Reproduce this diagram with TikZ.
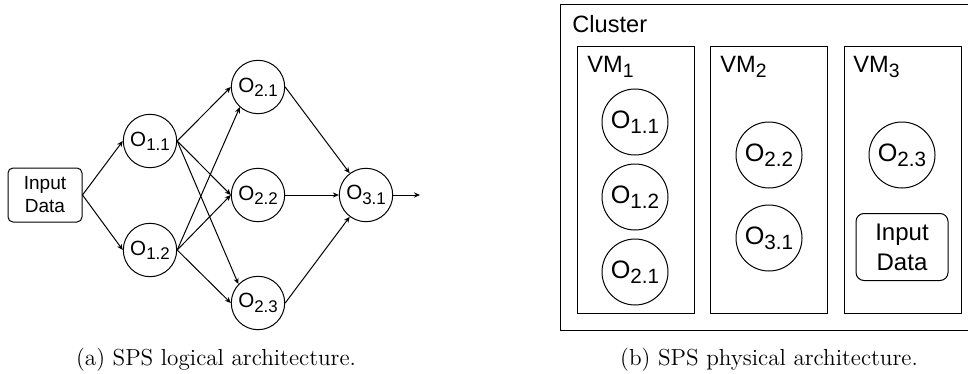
\documentclass[tikz,border=0pt]{standalone}
\usepackage{fontspec}
\newfontfamily\arialf{Liberation Sans}
\usetikzlibrary{arrows.meta}
\newcommand\mysub[1]{\raisebox{-0.21em}{\scalebox{0.82}{#1}}}
\begin{document}
\begin{tikzpicture}[x=0.5pt,y=-0.5pt,
  op/.style={circle,draw,line width=0.5pt,inner sep=0pt,minimum size=26.7pt,font=\arialf\fontsize{10.3}{12}\selectfont},
  opb/.style={op,minimum size=33pt,font=\arialf\fontsize{12.6}{15}\selectfont},
  inbox/.style={draw,rounded corners=2.5pt,line width=0.5pt,minimum width=37pt,minimum height=27pt,align=center,inner sep=0pt,font=\arialf\fontsize{9.5}{11.5}\selectfont},
  inboxb/.style={inbox,rounded corners=4pt,minimum width=46pt,minimum height=33.5pt,font=\arialf\fontsize{12}{15}\selectfont},
  vmbox/.style={draw,line width=0.5pt,minimum width=58.5pt,minimum height=133pt,inner sep=0pt},
  lbl/.style={anchor=base west,inner sep=0pt,font=\arialf\fontsize{11.8}{14}\selectfont},
  captext/.style={font=\fontsize{11.6}{13}\selectfont},
  arr/.style={-{Stealth[length=3pt,width=2.6pt]},line width=0.5pt},
]
\clip (0,0) rectangle (968,374);
% ---- (a) logical ----
\node[inbox] (in) at (45,195) {Input\\Data};
\node[op] (o11) at (150,141) {O\mysub{1.1}};
\node[op] (o12) at (150,250) {O\mysub{1.2}};
\node[op] (o21) at (258,87) {O\mysub{2.1}};
\node[op] (o22) at (258,195) {O\mysub{2.2}};
\node[op] (o23) at (258,303) {O\mysub{2.3}};
\node[op] (o31) at (366,195) {O\mysub{3.1}};
\coordinate (out) at (420,195);
\draw[arr] (in.east) -- (o11.west);
\draw[arr] (in.east) -- (o12.west);
\draw[arr] (o11.east) -- (o21.west);
\draw[arr] (o11.east) -- (o22.west);
\draw[arr] (o11.east) -- (o23.136);
\draw[arr] (o12.east) -- (o21.228);
\draw[arr] (o12.east) -- (o22.west);
\draw[arr] (o12.east) -- (o23.west);
\draw[arr] (o21.east) -- (o31);
\draw[arr] (o22.east) -- (o31.west);
\draw[arr] (o23.east) -- (o31);
\draw[arr] (o31.east) -- (out);
\node[captext] (capa) at (216,360) {(a) SPS logical architecture.};
% ---- (b) physical ----
\node[draw,line width=0.5pt,minimum width=230pt,minimum height=162.5pt,inner sep=0pt] (cluster) at (790,167.5) {};
\node[lbl] (cl) at (572,33) {Cluster};
\node[vmbox] (vm1) at (635.5,180) {};
\node[vmbox] (vm2) at (769,180) {};
\node[vmbox] (vm3) at (902.5,180) {};
\node[lbl] (vm1l) at (587,73) {VM\mysub{1}};
\node[lbl] (vm2l) at (720,73) {VM\mysub{2}};
\node[lbl] (vm3l) at (853,73) {VM\mysub{3}};
\node[opb] (p11) at (635,122) {O\mysub{1.1}};
\node[opb] (p12) at (635,197) {O\mysub{1.2}};
\node[opb] (p21) at (635,272) {O\mysub{2.1}};
\node[opb] (p22) at (769,155) {O\mysub{2.2}};
\node[opb] (p31) at (769,238) {O\mysub{3.1}};
\node[opb] (p23) at (902,155) {O\mysub{2.3}};
\node[inboxb] (pin) at (902,247) {Input\\Data};
\node[captext] (capb) at (769,360) {(b) SPS physical architecture.};
\end{tikzpicture}
\end{document}
